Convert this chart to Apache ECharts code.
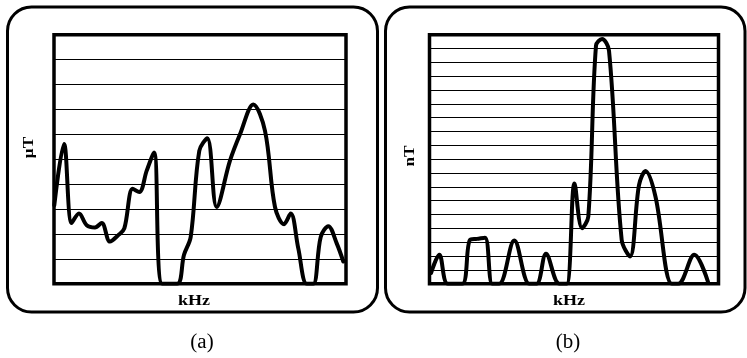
<!DOCTYPE html>
<html>
<head>
<meta charset="utf-8">
<script src="https://cdn.jsdelivr.net/npm/echarts@6/dist/echarts.min.js"></script>
<style>
html,body{margin:0;padding:0;background:#fff;}
#chart{width:747px;height:358px;}
</style>
</head>
<body>
<div id="chart"></div>
<script>
// Panel (a): frequency (arbitrary 0-100 kHz scale) vs field in µT (grid units 0-10)
const freqA = [0.1, 3.42, 6.06, 8.56, 11.2, 14.04, 16.34, 19.18, 22.02, 24.08, 26.95, 29.21, 31.75, 34.25, 37.09, 42.23, 44.52, 46.82, 49.76, 52.5, 55.72, 60.27, 63.7, 68.25, 72.26, 75.68, 78.77, 81.06, 83.66, 86.54, 88.8, 91.34, 93.94, 96.82, 99.08];
const valA  = [3.15, 5.61, 2.44, 2.82, 2.35, 2.26, 2.44, 1.69, 1.95, 2.22, 3.81, 3.68, 4.54, 5.27, 0, 0, 1.16, 1.88, 5.34, 5.84, 3.08, 4.94, 6.0, 7.2, 6.14, 3.08, 2.39, 2.82, 1.42, 0, 0, 1.88, 2.31, 1.62, 0.89];
// Panel (b): frequency vs field in nT (grid units 0-18)
const freqB = [0.52, 3.39, 6.3, 11.35, 14.01, 16.44, 19.2, 21.73, 24.15, 29.34, 34.53, 37.09, 40.31, 44.91, 47.47, 50.17, 52.77, 54.95, 57.61, 59.69, 62.11, 66.5, 69.38, 72.49, 74.74, 78.2, 83.81, 86.09, 91.63, 96.47];
const valB  = [0.77, 2.09, 0, 0, 3.17, 3.24, 3.33, 0, 0, 3.12, 0, 0, 2.16, 0, 0, 7.25, 4.01, 4.85, 17.21, 17.69, 16.85, 3.17, 1.97, 7.13, 8.14, 6.29, 0, 0, 2.09, 0.07];

const yUnitA = 'μT', yUnitB = 'nT', xUnit = 'kHz';
const captions = ['(a)', '(b)'];

const pairs = (xs, ys) => xs.map((x, i) => [x, ys[i]]);
const FONT = '"Liberation Serif", "Times New Roman", serif';

const chart = echarts.init(document.getElementById('chart'), null, {renderer: 'canvas'});

function xAx(gi) {
  return {gridIndex: gi, type: 'value', min: 0, max: 100,
    axisLine: {show: false}, axisTick: {show: false}, axisLabel: {show: false}, splitLine: {show: false}};
}
function yAx(gi, max) {
  return {gridIndex: gi, type: 'value', min: 0, max: max, interval: 1,
    axisLine: {show: false}, axisTick: {show: false}, axisLabel: {show: false},
    splitLine: {show: true, lineStyle: {color: '#000', width: 1}}};
}
function lineSeries(gi, data) {
  return {type: 'line', xAxisIndex: gi, yAxisIndex: gi, data: data, smooth: 0.35,
    showSymbol: false, symbol: 'none', clip: true, z: 3,
    lineStyle: {color: '#000', width: 4, cap: 'round', join: 'round'}};
}
function label(text, x, y, size, bold, rot, sx) {
  return {type: 'text', x: x, y: y, rotation: rot || 0, scaleX: sx || 1, z: 10,
    style: {text: text, font: (bold ? 'bold ' : '') + size + 'px ' + FONT, fill: '#000',
      align: 'center', verticalAlign: 'middle'}};
}

chart.setOption({
  animation: false,
  backgroundColor: '#fff',
  grid: [
    {left: 54, top: 34.7, width: 292, height: 249, show: true, borderColor: '#000', borderWidth: 3.5, backgroundColor: 'transparent'},
    {left: 429.5, top: 34.7, width: 289, height: 249, show: true, borderColor: '#000', borderWidth: 3.5, backgroundColor: 'transparent'}
  ],
  xAxis: [xAx(0), xAx(1)],
  yAxis: [yAx(0, 10), yAx(1, 18)],
  series: [lineSeries(0, pairs(freqA, valA)), lineSeries(1, pairs(freqB, valB))],
  graphic: [
    {type: 'rect', shape: {x: 7.5, y: 7, width: 370, height: 305, r: 24}, z: 0,
      style: {fill: 'none', stroke: '#000', lineWidth: 3}},
    {type: 'rect', shape: {x: 385.5, y: 7, width: 359.5, height: 305, r: 24}, z: 0,
      style: {fill: 'none', stroke: '#000', lineWidth: 3}},
    label(yUnitA, 29, 147.5, 15, true, Math.PI / 2, 1.15),
    label(yUnitB, 410, 156, 15, true, Math.PI / 2, 1.15),
    label(xUnit, 194, 301, 15, true, 0, 1.2),
    label(xUnit, 569, 301, 15, true, 0, 1.2),
    label(captions[0], 202, 343, 20, false, 0, 1.05),
    label(captions[1], 568, 343, 20, false, 0, 1.05)
  ]
});
</script>
</body>
</html>
